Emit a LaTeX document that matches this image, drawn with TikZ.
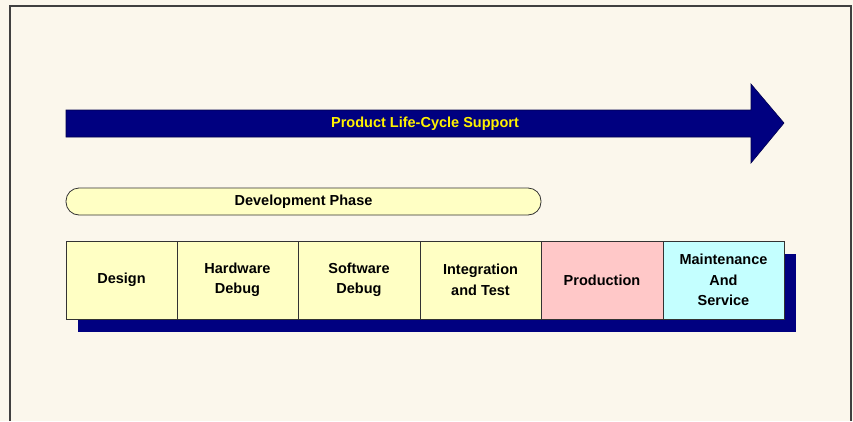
\documentclass[tikz,border=0pt]{standalone}
\usepackage{fontspec}
\setmainfont{Liberation Sans}
\usepackage{xcolor}
\definecolor{paper}{HTML}{FBF7EC}
\definecolor{navy}{HTML}{000080}
\definecolor{lightyellow}{HTML}{FFFFC4}
\definecolor{lightpink}{HTML}{FFC8C8}
\definecolor{lightcyan}{HTML}{C4FFFF}
\tikzset{
  phase/.style={draw=black!80, line width=0.8pt, anchor=north west, outer sep=0pt,
    minimum height=78pt, inner sep=2pt, align=center,
    font=\bfseries\fontsize{14.5}{20.5}\selectfont},
}

\begin{document}
\begin{tikzpicture}[x=1pt,y=-1pt]
          \useasboundingbox (0,0) rectangle (853,421);
          \fill[paper] (0,0) rectangle (853,421);
          \draw[black!75, line width=1.6pt] (10,421)--(10,6)--(851,6)--(851,421);

          % life-cycle arrow
          \coordinate (S) at (66,110);
          \coordinate (T) at (784,123);
          \draw[navy!60!black, fill=navy, line width=0.6pt]
            (S)--(751,110)--(751,84)--(T)--(751,163)--(751,137)--(66,137)--cycle;
          \node[text=yellow, font=\bfseries\fontsize{14.5}{17}\selectfont]
            (support) at (425,123.5) {Product Life-Cycle Support};

          % development phase bar
          \node[draw=black!80, line width=0.8pt, fill=lightyellow, outer sep=0pt,
            rounded corners=13pt, minimum width=475pt, minimum height=27pt,
            anchor=north west, font=\bfseries\fontsize{14.5}{17}\selectfont]
            (devel) at (66,188) {Development Phase};

          % shadow under the phases
          \fill[navy] (78,254) rectangle (796,332);

          % phases
          \node[phase, fill=lightyellow, minimum width=111pt] (design) at (66,241) {Design};
          \node[phase, fill=lightyellow, minimum width=121pt] (hw) at (design.north east) {Hardware\\Debug};
          \node[phase, fill=lightyellow, minimum width=122pt] (sw) at (hw.north east) {Software\\Debug};
          \node[phase, fill=lightyellow, minimum width=121pt] (integ) at (sw.north east) {Integration\\and Test};
          \node[phase, fill=lightpink, minimum width=122pt] (prod) at (integ.north east) {Production};
          \node[phase, fill=lightcyan, minimum width=121pt] (maint) at (prod.north east) {Maintenance\\And\\Service};
        \end{tikzpicture}
\end{document}
